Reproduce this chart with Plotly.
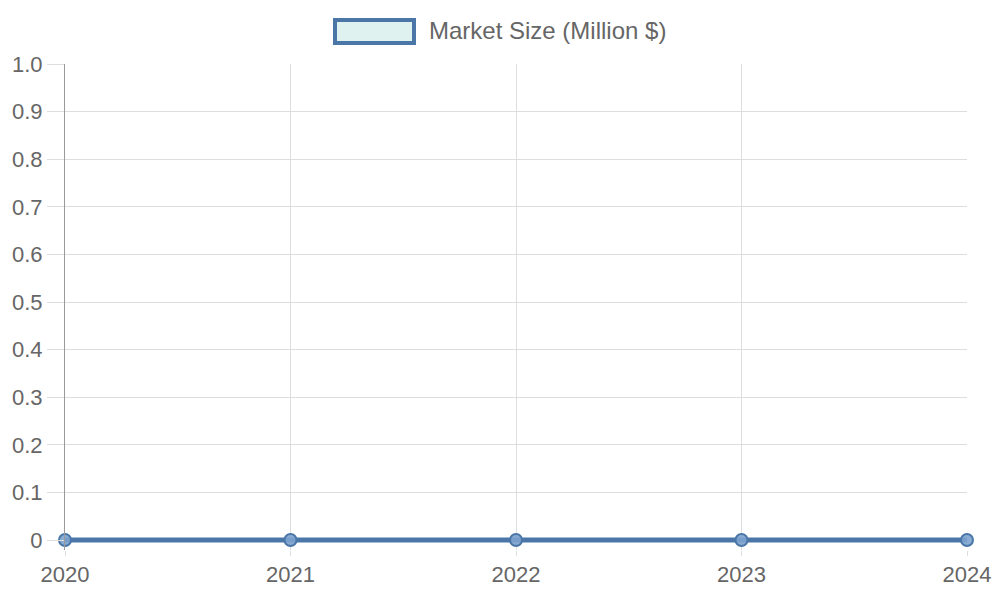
import plotly.graph_objects as go

years = [2020, 2021, 2022, 2023, 2024]
market_size = [0, 0, 0, 0, 0]
y_tick_vals = [0, 0.1, 0.2, 0.3, 0.4, 0.5, 0.6, 0.7, 0.8, 0.9, 1.0]
y_tick_text = ["0", "0.1", "0.2", "0.3", "0.4", "0.5", "0.6", "0.7", "0.8", "0.9", "1.0"]
series_name = "Market Size (Million $)"

LINE = "#4a76a8"
FILL = "#dff2f0"
TXT = "#666666"
GRID = "#dedede"

W, H = 1000, 600
L, R, T = 65, 33, 64
ZERO_PX = 540          # pixel row of y=0
EXTRA = 10             # pixels of plot area below y=0 so the thick line isn't clipped
unit = ZERO_PX - T     # pixels per 1.0
B = H - ZERO_PX - EXTRA
pw, ph = W - L - R, H - T - B

def px(x):
    return (x - L) / pw

def py(y):
    return (H - B - y) / ph

fig = go.Figure()
fig.add_trace(go.Scatter(
    x=years, y=market_size, mode="lines+markers", name=series_name,
    line=dict(color=LINE, width=5),
    marker=dict(size=12, color="rgba(125,163,206,0.9)", line=dict(color=LINE, width=2)),
    cliponaxis=False, showlegend=False,
))

fig.add_shape(type="rect", xref="paper", yref="paper",
              x0=px(335), x1=px(414), y0=py(43), y1=py(20),
              line=dict(color=LINE, width=4), fillcolor=FILL)
fig.add_annotation(xref="paper", yref="paper", x=px(427), y=py(31),
                   xanchor="left", yanchor="middle", showarrow=False,
                   text=series_name, font=dict(size=24, color=TXT))

fig.update_layout(
    width=W, height=H,
    margin=dict(l=L, r=R, t=T, b=B, autoexpand=False),
    paper_bgcolor="white", plot_bgcolor="white",
    font=dict(family="Liberation Sans, Arial, sans-serif", size=22, color=TXT),
    xaxis=dict(
        range=[2020, 2024], tickvals=years, ticktext=[str(y) for y in years],
        showgrid=True, gridcolor=GRID, gridwidth=1,
        ticks="outside", ticklen=5, tickcolor=GRID,
        showline=False, zeroline=False, fixedrange=True, automargin=False,
        tickfont=dict(size=22, color=TXT),
    ),
    yaxis=dict(
        range=[-EXTRA / unit, 1], tickvals=y_tick_vals, ticktext=y_tick_text,
        showgrid=True, gridcolor=GRID, gridwidth=1,
        ticks="outside", ticklen=17, tickcolor=GRID,
        showline=True, linecolor="#9a9a9a", linewidth=1,
        zeroline=False, fixedrange=True, automargin=False,
        tickfont=dict(size=22, color=TXT),
    ),
)

fig.write_html("out.html")
